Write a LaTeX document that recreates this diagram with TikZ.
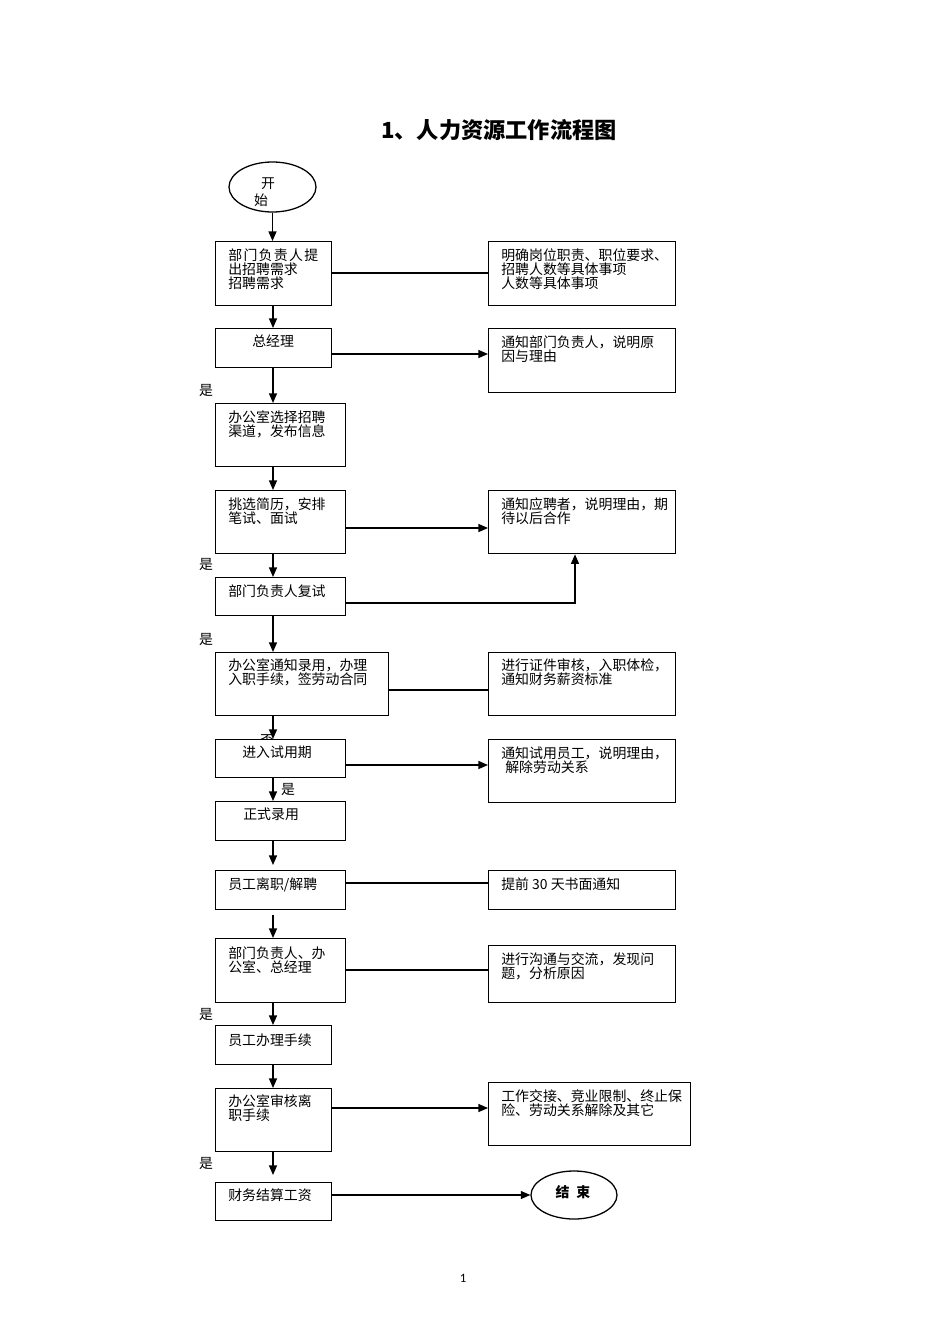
\documentclass[tikz,border=0pt]{standalone}
\usepackage{fontspec}
\newfontfamily\cjk{Noto Sans CJK SC}
\newfontfamily\pgnum{Carlito}
\usetikzlibrary{arrows.meta,shapes.geometric,calc}
\newdimen\pxu \pxu=0.626pt
\newcommand\myvc[2]{\draw[arr] ([xshift=58\pxu]#1.south west) -- ([xshift=58\pxu]#2.north west);}
\begin{document}
\begin{tikzpicture}[x=0.626pt,y=-0.626pt,
  box/.style={draw, line width=0.8pt, fill=white, anchor=north west, inner sep=0pt},
  ell/.style={ellipse, draw, line width=0.8pt, fill=white, inner sep=0pt},
  txt/.style={font=\cjk\fontsize{8.7}{8.8}\selectfont, anchor=north west, inner sep=0pt, align=left},
  txtc/.style={font=\cjk\fontsize{8.7}{8.8}\selectfont, inner sep=0pt},
  arr/.style={-{Triangle[length=6pt,width=5pt]}, line width=0.8pt},
  ln/.style={line width=0.8pt}]
\useasboundingbox (0,0) rectangle (950,1344);
\fill[white] (0,0) rectangle (950,1344);

\node[font=\cjk\bfseries\fontsize{13.9}{15}\selectfont] (title) at (499,130) {1、人力资源工作流程图};

% label drawn under box 7
\node[txtc] (fou) at (267,741) {否};

% start
\node[ell, minimum width=87\pxu, minimum height=50\pxu] (st) at (272.5,187) {};
\node[txtc] (st1) at (268,184) {开};
\node[txtc] (st2) at (261,200) {始};

% left column
\node[box, minimum width=116\pxu, minimum height=64\pxu] (b1) at (215,241) {};
\node[box, minimum width=116\pxu, minimum height=39\pxu] (b2) at (215,328) {};
\node[box, minimum width=130\pxu, minimum height=63\pxu] (b3) at (215,403) {};
\node[box, minimum width=130\pxu, minimum height=63\pxu] (b4) at (215,490) {};
\node[box, minimum width=130\pxu, minimum height=38\pxu] (b5) at (215,577) {};
\node[box, minimum width=173\pxu, minimum height=63\pxu] (b6) at (215,652) {};
\node[box, minimum width=130\pxu, minimum height=38\pxu] (b7) at (215,739) {};
\node[box, minimum width=130\pxu, minimum height=39\pxu] (b8) at (215,801) {};
\node[box, minimum width=130\pxu, minimum height=39\pxu] (b9) at (215,870) {};
\node[box, minimum width=130\pxu, minimum height=64\pxu] (b10) at (215,938) {};
\node[box, minimum width=116\pxu, minimum height=39\pxu] (b11) at (215,1025) {};
\node[box, minimum width=116\pxu, minimum height=63\pxu] (b12) at (215,1088) {};
\node[box, minimum width=116\pxu, minimum height=38\pxu] (b13) at (215,1182) {};

\node[txt] (t1) at (228,248) {部\hspace{1.3\pxu}门\hspace{1.3\pxu}负\hspace{1.3\pxu}责\hspace{1.3\pxu}人\hspace{1.3\pxu}提\\出招聘需求\\招聘需求};
\node[txt] (t2) at (252,335) {总经理};
\node[txt] (t3) at (228,410) {办公室选择招聘\\渠道，发布信息};
\node[txt] (t4) at (228,497) {挑选简历，安排\\笔试、面试};
\node[txt] (t5) at (228,584) {部门负责人复试};
\node[txt] (t6) at (228,658) {办公室通知录用，办理\\入职手续，签劳动合同};
\node[txt] (t7) at (242,746) {进入试用期};
\node[txt] (t8) at (243,808) {正式录用};
\node[txt] (t9) at (228,877) {员工离职/解聘};
\node[txt] (t10) at (228,946) {部门负责人、办\\公室、总经理};
\node[txt] (t11) at (228,1033) {员工办理手续};
\node[txt] (t12) at (228,1094) {办公室审核离\\职手续};
\node[txt] (t13) at (228,1188) {财务结算工资};

% right column
\node[box, minimum width=187\pxu, minimum height=64\pxu] (r1) at (488,241) {};
\node[box, minimum width=187\pxu, minimum height=64\pxu] (r2) at (488,328) {};
\node[box, minimum width=187\pxu, minimum height=63\pxu] (r3) at (488,490) {};
\node[box, minimum width=187\pxu, minimum height=63\pxu] (r4) at (488,652) {};
\node[box, minimum width=187\pxu, minimum height=63\pxu] (r5) at (488,739) {};
\node[box, minimum width=187\pxu, minimum height=39\pxu] (r6) at (488,870) {};
\node[box, minimum width=187\pxu, minimum height=57\pxu] (r7) at (488,945) {};
\node[box, minimum width=202\pxu, minimum height=63\pxu] (r8) at (488,1082) {};

\node[txt] (s1) at (501,248) {明确岗位职责、职位要求、\\招聘人数等具体事项\\人数等具体事项};
\node[txt] (s2) at (501,335) {通知部门负责人，说明原\\因与理由};
\node[txt] (s3) at (501,497) {通知应聘者，说明理由，期\\待以后合作};
\node[txt] (s4) at (501,658) {进行证件审核，入职体检，\\通知财务薪资标准};
\node[txt] (s5) at (501,746) {通知试用员工，说明理由，\\\hspace{4\pxu}解除劳动关系};
\node[txt] (s6) at (501,877) {提前 30 天书面通知};
\node[txt] (s7) at (501,952) {进行沟通与交流，发现问\\题，分析原因};
\node[txt] (s8) at (501,1089) {工作交接、竞业限制、终止保\\险、劳动关系解除及其它};

% end
\node[ell, minimum width=86\pxu, minimum height=48\pxu] (en) at (574,1195) {};
\node[font=\cjk\bfseries\fontsize{8.7}{8.8}\selectfont, inner sep=0pt] (ent) at (573,1192) {结\hspace{0.5em}束};

% yes labels
\node[txtc] (y1) at (206,391) {是};
\node[txtc] (y2) at (206,565) {是};
\node[txtc] (y3) at (206,640) {是};
\node[txtc] (y4) at (288,790) {是};
\node[txtc] (y5) at (206,1014) {是};
\node[txtc] (y6) at (206,1163) {是};

% vertical arrows
\draw[arr] (st.south) -- (st.south |- b1.north);
\myvc{b1}{b2}
\myvc{b2}{b3}
\myvc{b3}{b4}
\myvc{b4}{b5}
\myvc{b5}{b6}
\myvc{b6}{b7}
\myvc{b7}{b8}
\draw[arr] ([xshift=58\pxu]b8.south west) -- ([xshift=58\pxu,yshift=5\pxu]b9.north west);
\draw[arr] ([xshift=58\pxu,yshift=-5\pxu]b9.south west) -- ([xshift=58\pxu]b10.north west);
\myvc{b10}{b11}
\myvc{b11}{b12}
\draw[arr] ([xshift=58\pxu]b12.south west) -- ([xshift=58\pxu,yshift=7\pxu]b13.north west);

% horizontal connectors
\coordinate (h1) at (0,273);
\coordinate (h2) at (0,354);
\coordinate (h3) at (0,528);
\coordinate (h4) at (575,603);
\coordinate (h5) at (0,690);
\coordinate (h6) at (0,765);
\coordinate (h7) at (0,883);
\coordinate (h8) at (0,970);
\coordinate (h9) at (0,1108);
\coordinate (h10) at (0,1195);
\draw[ln] (b1.east |- h1) -- (r1.west |- h1);
\draw[arr] (b2.east |- h2) -- (r2.west |- h2);
\draw[arr] (b4.east |- h3) -- (r3.west |- h3);
\draw[arr] (b5.east |- h4) -- (h4) -- (r3.south -| h4);
\draw[ln] (b6.east |- h5) -- (r4.west |- h5);
\draw[arr] (b7.east |- h6) -- (r5.west |- h6);
\draw[ln] (b9.east |- h7) -- (r6.west |- h7);
\draw[ln] (b10.east |- h8) -- (r7.west |- h8);
\draw[arr] (b12.east |- h9) -- (r8.west |- h9);
\draw[arr] (b13.east |- h10) -- (en.west);

\node[font=\pgnum\fontsize{8}{9}\selectfont, inner sep=0pt] (pg) at (463,1278) {1};
\end{tikzpicture}
\end{document}
